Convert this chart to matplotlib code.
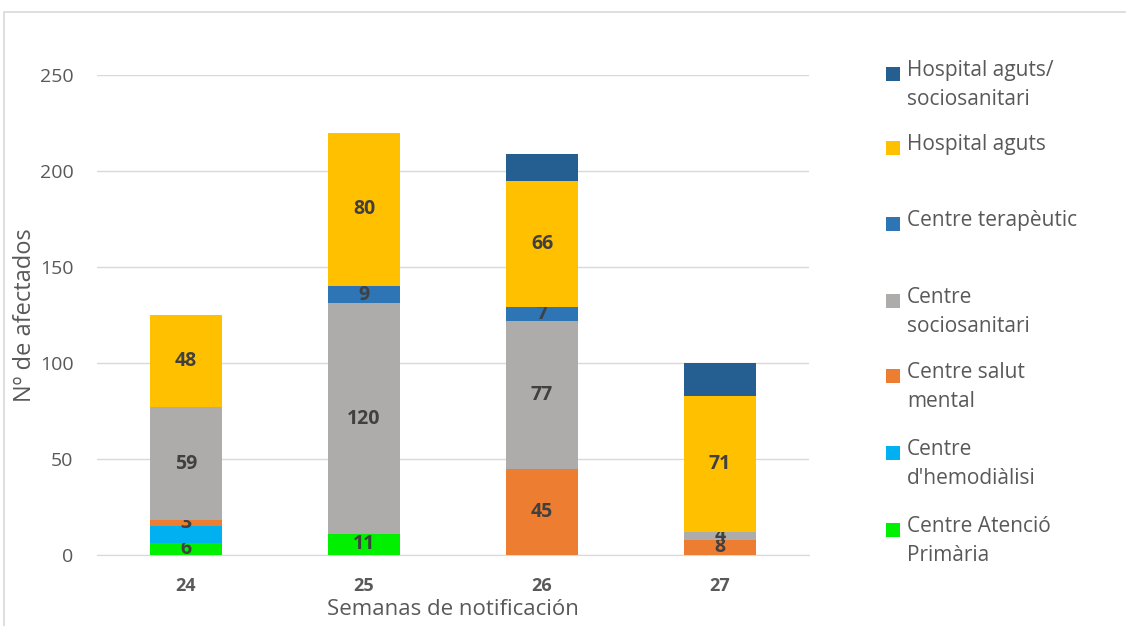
import matplotlib
matplotlib.use("Agg")
import matplotlib.pyplot as plt
from matplotlib.patches import Rectangle
import numpy as np

plt.rcParams['font.family'] = ['Open Sans', 'DejaVu Sans']

weeks = ["24", "25", "26", "27"]
# stack order bottom -> top
series_names = ["Centre Atenció Primària", "Centre d'hemodiàlisi", "Centre salut mental",
                "Centre sociosanitari", "Centre terapèutic", "Hospital aguts",
                "Hospital aguts/ sociosanitari"]
legend_texts = ["Centre Atenció\nPrimària", "Centre\nd'hemodiàlisi", "Centre salut\nmental",
                "Centre\nsociosanitari", "Centre terapèutic", "Hospital aguts",
                "Hospital aguts/\nsociosanitari"]
cap = [6, 11, 0, 0]
hemodialisi = [9, 0, 0, 0]
salut_mental = [3, 0, 45, 8]
sociosanitari = [59, 120, 77, 4]
terapeutic = [0, 9, 7, 0]
aguts = [48, 80, 66, 71]
aguts_socio = [0, 0, 14, 17]
values = [cap, hemodialisi, salut_mental, sociosanitari, terapeutic, aguts, aguts_socio]
show_labels = [True, False, True, True, True, True, False]
colors = ["#00F000", "#00B0F0", "#ED7D31", "#AEABAB", "#2E75B6", "#FFC000", "#255E91"]

fig = plt.figure(figsize=(11.26, 6.26), dpi=100)
ax = fig.add_axes([97/1126, (626-555)/626, 712/1126, 480/626])

# figure border
fig.patches.append(Rectangle((4/1126, -0.1), 1.2, (626-12)/626 + 0.1, transform=fig.transFigure,
                             facecolor='none', edgecolor='#D9D9D9', lw=1.2, zorder=0))

x = np.arange(len(weeks))
bottom = np.zeros(len(weeks))
for vals, name, col, lab in zip(values, series_names, colors, show_labels):
    v = np.array(vals, dtype=float)
    bars = ax.bar(x, v, 0.4, bottom=bottom, color=col, label=name, zorder=3)
    if lab:
        ax.bar_label(bars, labels=[str(int(a)) if a > 0 else "" for a in v], label_type='center',
                     color='#404040', fontsize=14, fontweight='bold')
    bottom += v

ax.set_xlim(-0.5, 3.5)
ax.set_ylim(0, 250)
ax.set_yticks(range(0, 251, 50))
ax.grid(axis='y', color='#D9D9D9', lw=1, zorder=0)
for s in ['top', 'right', 'left']:
    ax.spines[s].set_visible(False)
ax.spines['bottom'].set_color('#D9D9D9')
ax.tick_params(length=0)
ax.tick_params(axis='y', labelsize=14, labelcolor='#595959', pad=17)
ax.set_xticks(x)
ax.set_xticklabels(weeks, fontsize=13, fontweight='bold', color='#595959')
ax.tick_params(axis='x', pad=16)
ax.set_ylabel("Nº de afectados", fontsize=17, color='#595959', labelpad=2)
ax.set_xlabel("Semanas de notificación", fontsize=16, color='#595959', labelpad=3)

# legend (manual), top to bottom
ycent = [74, 148, 224, 301, 376, 453, 530]
for i, idx in enumerate(range(len(series_names) - 1, -1, -1)):
    yc = ycent[i]
    fig.patches.append(Rectangle((886/1126, (626 - yc - 7)/626), 14/1126, 14/626,
                                 transform=fig.transFigure, facecolor=colors[idx], edgecolor='none'))
    fig.text(907/1126, (626 - yc + 14)/626, legend_texts[idx], fontsize=15, color='#595959',
             va='top', ha='left', linespacing=1.5)

fig.savefig("out.png", dpi=100)
